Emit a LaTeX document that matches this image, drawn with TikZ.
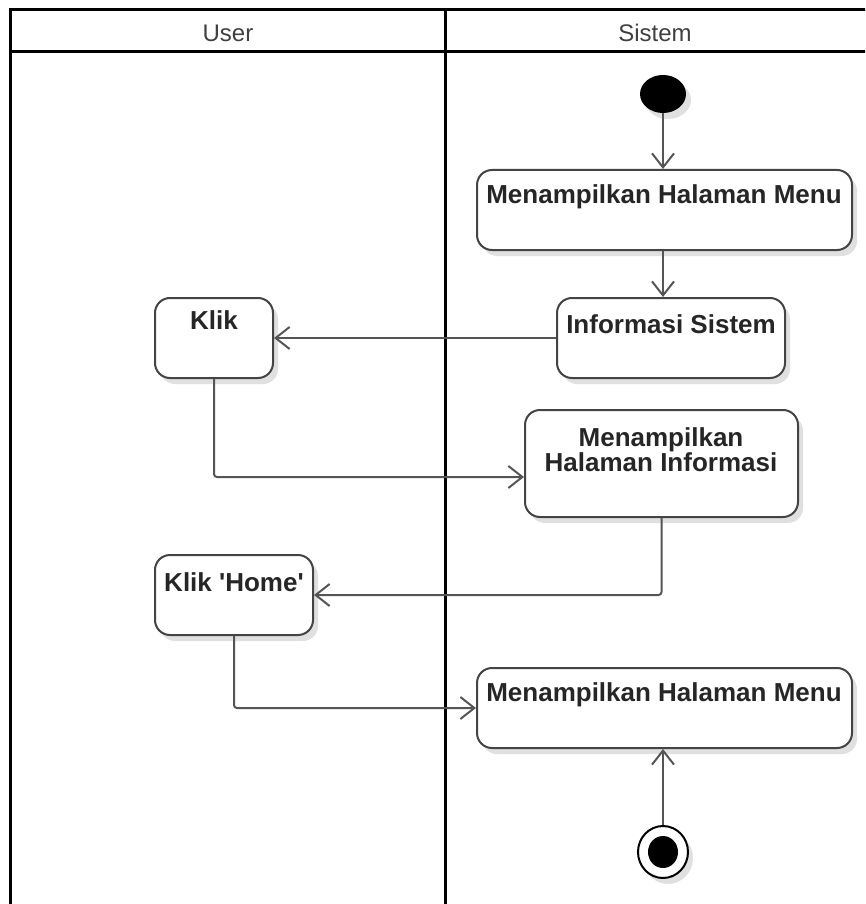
\documentclass[tikz,border=0pt]{standalone}
\usepackage{fontspec}
\setmainfont{Liberation Sans}
% a family without TeX ligature mapping keeps straight quotes
\newfontfamily\actfont{Liberation Sans}
\usetikzlibrary{arrows.meta,shadows,calc,shapes.geometric}
\definecolor{edge}{HTML}{444444}
\definecolor{flow}{HTML}{555555}
\tikzset{
  act/.style={draw=edge, line width=2pt, rounded corners=15pt, fill=white,
    drop shadow={shadow xshift=5pt, shadow yshift=-6pt, opacity=0.12, fill=black}},
  acttext/.style={font=\actfont\bfseries\fontsize{26}{30}\selectfont, text=black!85, inner sep=0pt, align=center},
  lane/.style={draw=black, line width=3pt},
  lanehead/.style={font=\fontsize{24}{28}\selectfont, text=black!75, inner sep=0pt},
  flowline/.style={draw=flow, line width=2pt, -{Straight Barb[length=14pt,width=22pt,line width=2pt]}},
}
\begin{document}
\begin{tikzpicture}[x=1pt,y=-1pt]
\useasboundingbox (0,0) rectangle (865,904);
\fill[white] (0,0) rectangle (865,904);
\begin{scope}
\clip (0,0) rectangle (865,904);
% swimlane frame
\draw[lane] (10,910) -- (10,10) -- (870,10);
\draw[lane] (10,52) -- (870,52);
\draw[lane] (445,10) -- (445,910);
\node[lanehead] (huser) at (228,33) {User};
\node[lanehead] (hsys) at (655,33) {Sistem};

% initial and final states
\node[ellipse, fill=black, minimum width=46pt, minimum height=38pt, inner sep=0pt,
  drop shadow={shadow xshift=5pt, shadow yshift=-6pt, opacity=0.12, fill=black}] (start) at (663,94) {};
\node[ellipse, draw=black, line width=2pt, fill=white, minimum width=50pt, minimum height=52pt, inner sep=0pt,
  drop shadow={shadow xshift=5pt, shadow yshift=-6pt, opacity=0.12, fill=black}] (final) at (663,852) {};
\node[ellipse, fill=black, minimum width=30pt, minimum height=32pt, inner sep=0pt] (finalcore) at (663,852) {};

% activities
\path[act] (477,170) rectangle (852,250) node[pos=0.5, inner sep=0pt, minimum width=375pt, minimum height=80pt] (m1) {};
\path[act] (557,298) rectangle (785,378) node[pos=0.5, inner sep=0pt, minimum width=228pt, minimum height=80pt] (info) {};
\path[act] (155,298) rectangle (273,378) node[pos=0.5, inner sep=0pt, minimum width=118pt, minimum height=80pt] (klik) {};
\path[act] (525,410) rectangle (798,517) node[pos=0.5, inner sep=0pt, minimum width=273pt, minimum height=107pt] (hi) {};
\path[act] (155,555) rectangle (313,635) node[pos=0.5, inner sep=0pt, minimum width=158pt, minimum height=80pt] (home) {};
\path[act] (477,668) rectangle (852,748) node[pos=0.5, inner sep=0pt, minimum width=375pt, minimum height=80pt] (m2) {};

\node[acttext] (m1t) at (664,197) {Menampilkan Halaman Menu};
\node[acttext] (infot) at (671,324) {Informasi Sistem};
\node[acttext] (klikt) at (214,320) {Klik};
\node[acttext] (hit) at (661,450) {Menampilkan\\[-5pt]Halaman Informasi};
\node[acttext] (homet) at (234,582) {Klik 'Home'};
\node[acttext] (m2t) at (664,695) {Menampilkan Halaman Menu};

% control flows
\coordinate (y477) at (0,477);
\draw[flowline] (start) -- (m1.north -| start);
\draw[flowline] (m1.south -| start) -- (info.north -| start);
\draw[flowline] (info.west) -- (klik.east);
\draw[flowline, rounded corners=3pt] (klik.south) |- (hi.west |- y477);
\draw[flowline, rounded corners=3pt] (hi.south) |- (home.east);
\draw[flowline, rounded corners=3pt] (home.south) |- (m2.west);
\draw[flowline] (final) -- (m2.south -| final);
\end{scope}
\end{tikzpicture}
\end{document}
